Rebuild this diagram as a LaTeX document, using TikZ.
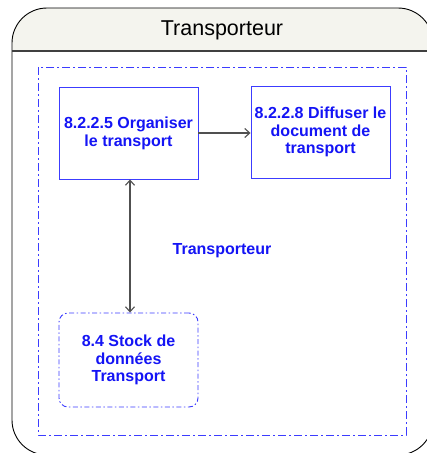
\documentclass[tikz,border=0pt]{standalone}
\usepackage{fontspec}
\setmainfont{Liberation Sans}
\usetikzlibrary{arrows.meta}
\definecolor{txtblue}{RGB}{20,20,245}
\definecolor{lineblue}{RGB}{60,60,255}
\definecolor{headfill}{RGB}{244,244,238}
\definecolor{headline}{RGB}{64,64,64}
\definecolor{arrgray}{RGB}{80,80,80}
\tikzset{
  procbox/.style={draw=lineblue, line width=0.9pt, minimum width=139pt, minimum height=92pt,
    inner sep=0pt, align=center, text=txtblue,
    font=\fontsize{16pt}{17.8pt}\selectfont\bfseries},
  storebox/.style={procbox, rounded corners=9pt, minimum height=94pt,
    dash pattern=on 5pt off 2.5pt on 1.5pt off 2.5pt},
  flow/.style={draw=arrgray, line width=1.1pt, -{Straight Barb[length=5pt,width=9pt]}},
  biflow/.style={draw=arrgray, line width=1.1pt, {Straight Barb[length=5pt,width=9pt]}-{Straight Barb[length=5pt,width=9pt]}},
  framedash/.style={draw=lineblue, line width=1pt, dash pattern=on 8pt off 3pt on 2pt off 3pt}
}
\begin{document}
\begin{tikzpicture}[x=1pt,y=-1pt]
\useasboundingbox (0,0) rectangle (427,453);
\fill[white] (0,0) rectangle (427,453);
% header fill
\begin{scope}
  \clip (0,0) rectangle (440,51);
  \fill[headfill, rounded corners=35pt] (12,8) rectangle (433,455);
\end{scope}
% outer swimlane
\draw[black, line width=0.9pt, rounded corners=35pt] (12,8) rectangle (433,455);
\draw[headline, line width=1.5pt] (12,51) -- (433,51);
\node[font=\fontsize{21.5pt}{24pt}\selectfont] (title) at (222,30) {Transporteur};
% dashed frame
\draw[framedash] (38,67) rectangle (406,435);
\node[text=txtblue, font=\fontsize{16pt}{17.8pt}\selectfont\bfseries] (lbl) at (222,251) {Transporteur};
% boxes
\node[procbox] (b1) at (128.5,133) {8.2.2.5 Organiser\\le transport};
\node[procbox] (b2) at (320.5,132) {8.2.2.8 Diffuser le\\document de\\transport};
\node[storebox] (st) at (128.5,360) {8.4 Stock de\\données\\Transport};
% connectors
\draw[flow] (b1.east) -- (b1.east -| b2.west);
\draw[biflow] ([xshift=1.5pt]b1.south) -- ([xshift=1.5pt]st.north);
\end{tikzpicture}
\end{document}
